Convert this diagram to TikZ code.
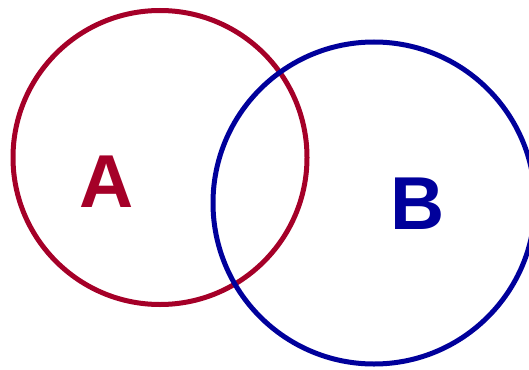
\documentclass[tikz,border=0pt]{standalone}
\usepackage{fontspec}
\setmainfont{Liberation Sans}
\usepackage{tikz}
\usetikzlibrary{positioning}
\definecolor{cSetA}{RGB}{165,0,40}
\definecolor{cSetB}{RGB}{0,0,155}

\begin{document}
\begin{tikzpicture}[x=1pt,y=-1pt,
   ring/.style={draw=#1,circle,line width=5pt,inner sep=0pt,outer sep=0pt},
   setlabel/.style={text=#1,font=\fontsize{75}{75}\selectfont\bfseries,inner sep=0pt}]
 \useasboundingbox (0,0) rectangle (529,369);
 % the two sets
 \node[ring=cSetA,minimum size=294pt] (circA) at (160,157.5) {};
 \node[ring=cSetB,minimum size=322pt] (circB) at (374,203) {};
 % set names
 \node[setlabel=cSetA] (labA) at (107,182) {A};
 \node[setlabel=cSetB] (labB) at (418,204) {B};
\end{tikzpicture}
\end{document}
